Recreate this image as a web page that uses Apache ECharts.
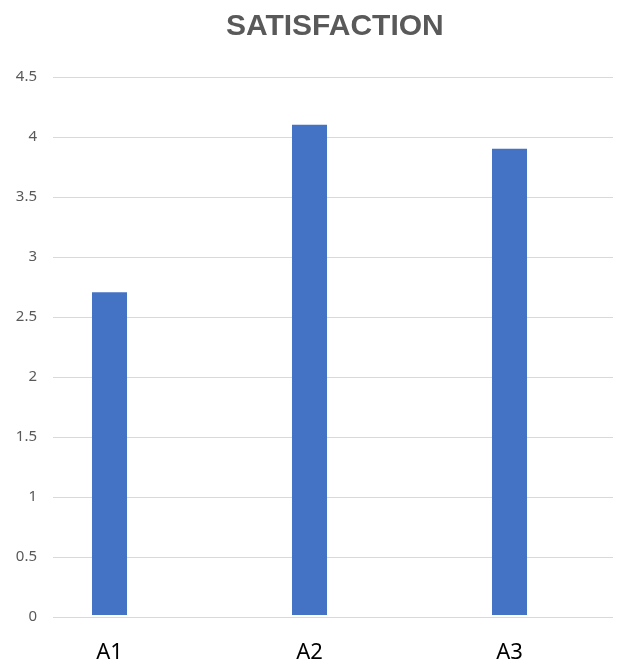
<!DOCTYPE html>
<html><head><meta charset="utf-8">
<script src="https://cdn.jsdelivr.net/npm/echarts@6/dist/echarts.min.js"></script>
<style>html,body{margin:0;padding:0;background:#fff}#c{width:624px;height:664px}</style>
</head><body><div id="c"></div>
<script>
const categories = ['A1', 'A2', 'A3'];
const satisfaction = [2.7, 4.1, 3.9];
const yTicks = { min: 0, max: 4.5, interval: 0.5 };

const chart = echarts.init(document.getElementById('c'), null, { renderer: 'canvas' });
chart.setOption({
  animation: false,
  backgroundColor: '#ffffff',
  title: {
    text: 'SATISFACTION', left: 221, top: 7,
    textStyle: { fontFamily: 'Liberation Sans', fontWeight: 'bold', fontSize: 30, color: '#595959' }
  },
  grid: [
    { left: 53, right: 11, top: 77, bottom: 47 },
    { left: 9.5, right: 14.5, top: 77, bottom: 47 }
  ],
  xAxis: [
    { type: 'category', gridIndex: 0, data: categories, show: false },
    {
      type: 'category', gridIndex: 1, data: categories,
      axisLine: { show: false }, axisTick: { show: false },
      axisLabel: { fontFamily: 'Noto Sans', fontSize: 22, color: '#000000', margin: 27 }
    }
  ],
  yAxis: [
    {
      type: 'value', gridIndex: 0, min: yTicks.min, max: yTicks.max, interval: yTicks.interval,
      axisLine: { show: false }, axisTick: { show: false },
      axisLabel: { fontFamily: 'Noto Sans', fontSize: 15, color: '#595959', margin: 16 },
      splitLine: { lineStyle: { color: '#d9d9d9', width: 1 } }
    },
    {
      type: 'value', gridIndex: 1, min: yTicks.min, max: yTicks.max, interval: yTicks.interval,
      show: false, splitLine: { show: false }
    }
  ],
  series: [{
    type: 'bar', xAxisIndex: 1, yAxisIndex: 1, data: satisfaction,
    barWidth: 35, itemStyle: { color: '#4472c4' }
  }]
});
</script></body></html>
